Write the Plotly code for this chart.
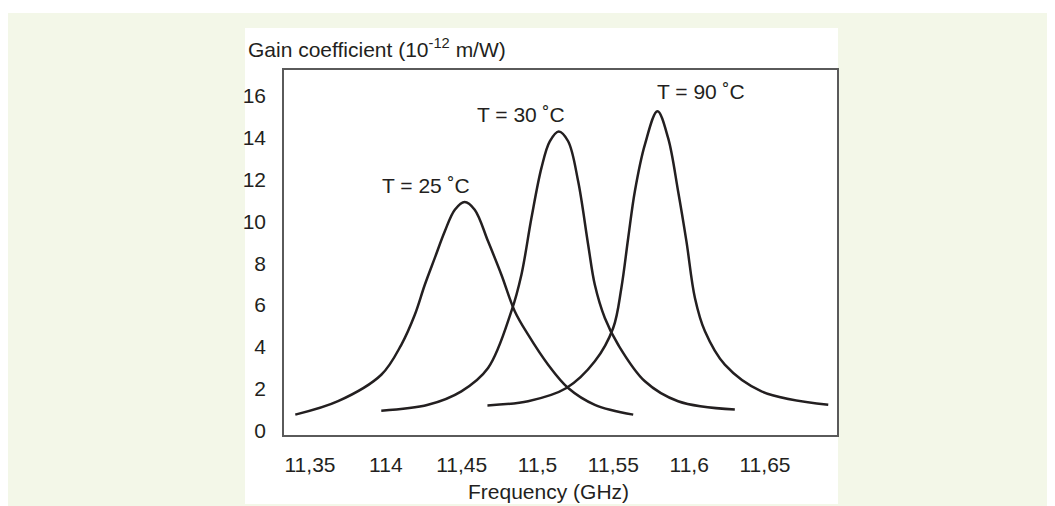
import plotly.graph_objects as go

# ---- data ----
freq_25 = [11.3403, 11.3685, 11.3970, 11.4102, 11.4191, 11.4257, 11.4323, 11.4389, 11.4455, 11.4520,
           11.4586, 11.4674, 11.4762, 11.4850, 11.4938, 11.5070, 11.5202, 11.5378, 11.5631]
gain_25 = [0.78, 1.42, 2.68, 4.11, 5.54, 6.97, 8.25, 9.52, 10.55, 10.92,
           10.55, 9.04, 7.45, 5.71, 4.59, 3.16, 2.05, 1.25, 0.78]

freq_30 = [11.3970, 11.4278, 11.4498, 11.4674, 11.4828, 11.4894, 11.4960, 11.5026, 11.5081, 11.5140,
           11.5202, 11.5268, 11.5334, 11.5378, 11.5444, 11.5532, 11.5708, 11.5927, 11.6301]
gain_30 = [0.97, 1.25, 1.89, 3.00, 5.71, 7.45, 10.15, 12.54, 13.81, 14.28,
           13.81, 11.90, 8.88, 6.97, 5.39, 4.11, 2.37, 1.42, 1.02]

freq_90 = [11.4670, 11.4938, 11.5191, 11.5378, 11.5499, 11.5553, 11.5598, 11.5642, 11.5708, 11.5791,
           11.5861, 11.5927, 11.5982, 11.6038, 11.6104, 11.6235, 11.6477, 11.6917]
gain_90 = [1.22, 1.42, 2.05, 3.32, 4.91, 6.82, 9.20, 11.43, 13.65, 15.24,
           13.97, 11.43, 9.04, 6.34, 4.75, 3.16, 1.89, 1.25]

series_labels = ["T = 25 ˚C", "T = 30 ˚C", "T = 90 ˚C"]

x_tickvals = [11.35, 11.40, 11.45, 11.50, 11.55, 11.60, 11.65]
x_ticktext = ["11,35", "114", "11,45", "11,5", "11,55", "11,6", "11,65"]
y_tickvals = [0, 2, 4, 6, 8, 10, 12, 14, 16]

x_title = "Frequency (GHz)"
y_title = "Gain coefficient (10<sup>-12</sup> m/W)"

# ---- figure ----
FONT = "Liberation Sans, Arial, Helvetica, sans-serif"
INK = "#231f20"
BG = "#f3f7e8"

fig = go.Figure()
for fx, gy in [(freq_25, gain_25), (freq_30, gain_30), (freq_90, gain_90)]:
    fig.add_trace(go.Scatter(x=fx, y=gy, mode="lines",
                             line=dict(color=INK, width=2.5, shape="spline", smoothing=1.0),
                             showlegend=False, hoverinfo="skip"))

# peak labels
label_pos = [(417.5, 177.5), (512.5, 106.7), (692.5, 83.5)]  # pixel positions
L, R, T, B = 276, 226, 62, 79
W, H = 1055, 506
pw, ph = W - L - R, H - T - B
xr = [11.35 - 26 / 1516.7, 11.65 + 72 / 1516.7]
yr = [-(427 - 423) / 20.98, (423 - 62) / 20.98]

def px2x(px):
    return (px - L) / pw

def py2y(py):
    return (H - B - py) / ph

for lab, (px, py) in zip(series_labels, label_pos):
    fig.add_annotation(x=px2x(px), y=py2y(py), xref="paper", yref="paper",
                       text=lab, showarrow=False, xanchor="center", yanchor="middle",
                       font=dict(family=FONT, size=21, color=INK))

fig.add_annotation(x=px2x(540), y=py2y(484), xref="paper", yref="paper",
                   text=x_title, showarrow=False, xanchor="center", yanchor="middle",
                   font=dict(family=FONT, size=21, color=INK))
fig.add_annotation(x=px2x(238), y=py2y(40), xref="paper", yref="paper",
                   text=y_title, showarrow=False, xanchor="left", yanchor="middle",
                   font=dict(family=FONT, size=21, color=INK))

# white panel behind chart and white strip at top
fig.add_shape(type="rect", xref="paper", yref="paper", layer="below",
              x0=px2x(237), x1=px2x(830), y0=py2y(496), y1=py2y(20),
              fillcolor="white", line=dict(width=0))
fig.add_shape(type="rect", xref="paper", yref="paper", layer="below",
              x0=px2x(0), x1=px2x(W), y0=py2y(5), y1=py2y(0),
              fillcolor="white", line=dict(width=0))

axis_common = dict(showgrid=False, zeroline=False, showline=True, mirror=True,
                   linecolor="#5a5a5a", linewidth=1.5, ticks="",
                   tickfont=dict(family=FONT, size=21, color=INK))

fig.update_layout(
    width=W, height=H,
    margin=dict(l=L, r=R, t=T, b=B, autoexpand=False),
    paper_bgcolor=BG, plot_bgcolor="white",
    xaxis=dict(range=xr, tickmode="array", tickvals=x_tickvals, ticktext=x_ticktext,
               ticklabelstandoff=10, **axis_common),
    yaxis=dict(range=yr, tickmode="array", tickvals=y_tickvals,
               ticklabelstandoff=12, **axis_common),
)

fig.write_html("out.html")
